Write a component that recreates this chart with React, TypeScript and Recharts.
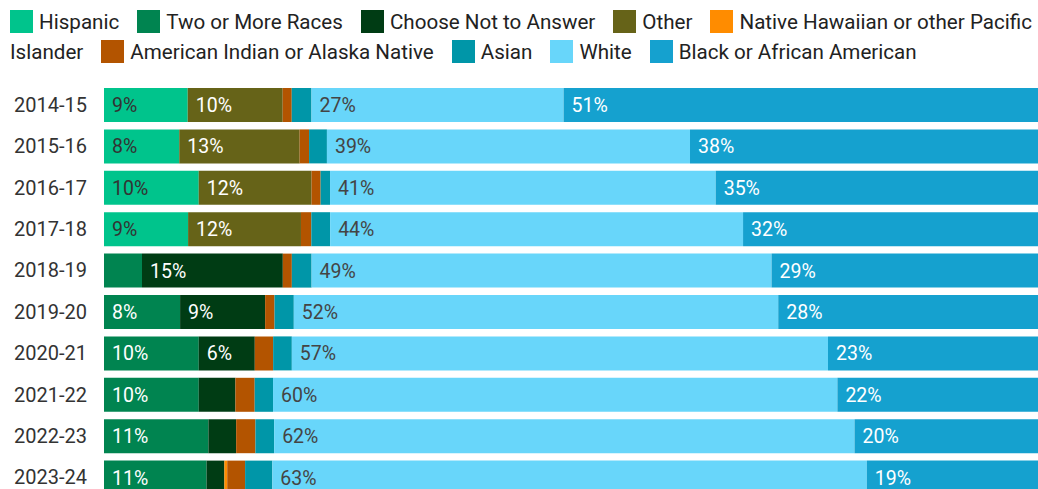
import React from 'react';
import { BarChart, Bar, XAxis, YAxis, Legend, LabelList } from 'recharts';

const years = ['2014-15', '2015-16', '2016-17', '2017-18', '2018-19', '2019-20', '2020-21', '2021-22', '2022-23', '2023-24'];

const hispanic = [8.9, 8.0, 10.07, 8.94, 0, 0, 0, 0, 0, 0];
const twoOrMore = [0, 0, 0, 0, 4.04, 8.09, 10.07, 10.07, 11.1, 10.9];
const chooseNot = [0, 0, 0, 0, 14.97, 9.04, 5.96, 3.9, 2.95, 1.9];
const other = [10.1, 12.8, 12.0, 12.0, 0, 0, 0, 0, 0, 0];
const nativeHawaiian = [0, 0, 0, 0, 0, 0, 0, 0, 0, 0.3];
const amIndian = [0.96, 1.0, 0.96, 1.1, 0.96, 1.0, 1.95, 2.05, 2.05, 1.9];
const asian = [2.1, 1.9, 1.0, 2.0, 2.1, 2.05, 1.99, 1.95, 1.99, 2.9];
const white = [26.8, 38.6, 41.0, 43.9, 48.9, 51.5, 57.0, 60.0, 61.7, 63.2];
const black = [51.1, 37.7, 35.0, 32.1, 29.0, 28.3, 23.0, 22.0, 20.2, 18.9];

const SERIES = [
  { key: 'hispanic', name: 'Hispanic', values: hispanic, color: '#00c48c', text: '#333' },
  { key: 'twoOrMore', name: 'Two or More Races', values: twoOrMore, color: '#008450', text: '#fff' },
  { key: 'chooseNot', name: 'Choose Not to Answer', values: chooseNot, color: '#003c14', text: '#fff' },
  { key: 'other', name: 'Other', values: other, color: '#666318', text: '#fff' },
  { key: 'nativeHawaiian', name: 'Native Hawaiian or other Pacific Islander', values: nativeHawaiian, color: '#ff8c00', text: '#fff' },
  { key: 'amIndian', name: 'American Indian or Alaska Native', values: amIndian, color: '#b35400', text: '#fff' },
  { key: 'asian', name: 'Asian', values: asian, color: '#0096a8', text: '#fff' },
  { key: 'white', name: 'White', values: white, color: '#68d6fa', text: '#444' },
  { key: 'black', name: 'Black or African American', values: black, color: '#15a1cf', text: '#fff' },
];

const data = years.map((year, i) => {
  const row: Record<string, any> = { year };
  SERIES.forEach(s => { row[s.key] = s.values[i]; });
  return row;
});

const FONT = 'Roboto, sans-serif';

const makeLabel = (color: string) => (props: any) => {
  const { x, y, height, value } = props;
  if (value == null || value < 5) return null;
  return (
    <text x={Number(x) + 8} y={Number(y) + Number(height) / 2} dy="0.36em" fill={color} fontSize={19.5} fontFamily={FONT}>
      {Math.round(value)}%
    </text>
  );
};

const LegendContent = () => (
  <div style={{ height: 84, boxSizing: 'border-box', paddingTop: 7, paddingLeft: 10, fontFamily: FONT, fontSize: 20.6, lineHeight: '30px', color: '#222', textAlign: 'left' }}>
    {SERIES.map(s => (
      <span key={s.key} style={{ marginRight: 18 }}>
        <span style={{ display: 'inline-block', width: 23, height: 23, background: s.color, verticalAlign: 'middle', marginRight: 6, position: 'relative', top: -2 }} />
        {s.name}
      </span>
    ))}
  </div>
);

export default function App() {
  return (
    <div style={{ position: 'fixed', left: 0, top: 0, width: 1038, height: 489, overflow: 'hidden', background: '#fff' }}>
      <BarChart width={1045} height={498} data={data} layout="vertical" margin={{ top: 0, right: 0, bottom: 0, left: 0 }}>
        <XAxis type="number" domain={[0, 100]} hide />
        <YAxis
          type="category"
          dataKey="year"
          width={104}
          axisLine={false}
          tickLine={false}
          tickSize={0}
          tickMargin={17}
          tick={{ fill: '#333', fontSize: 20, fontFamily: FONT }}
        />
        <Legend verticalAlign="top" align="left" content={<LegendContent />} wrapperStyle={{ left: 0, top: 0, width: 1036 }} />
        {SERIES.map(s => (
          <Bar key={s.key} dataKey={s.key} name={s.name} stackId="a" fill={s.color} barSize={34} isAnimationActive={false}>
            <LabelList dataKey={s.key} content={makeLabel(s.text)} />
          </Bar>
        ))}
      </BarChart>
    </div>
  );
}
